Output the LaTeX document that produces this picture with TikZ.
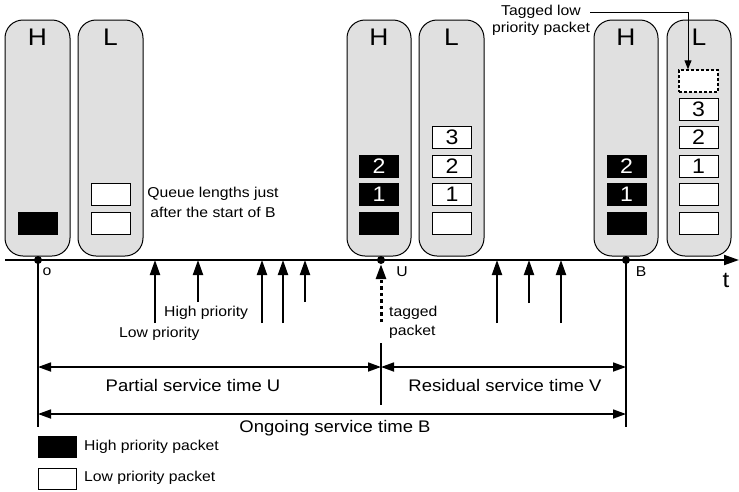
\documentclass[tikz,border=0pt]{standalone}
\usepackage{fontspec}
\setmainfont{Liberation Sans}[FakeStretch=1.1]
\usetikzlibrary{arrows.meta}
\definecolor{qgray}{RGB}{224,224,224}
\begin{document}
\begin{tikzpicture}[x=1pt,y=-1pt,
  queue/.style={draw, fill=qgray, rounded corners=18pt, line width=1pt, minimum width=64pt, minimum height=236pt, inner sep=0pt},
  qlabel/.style={font=\fontsize{24}{28}\selectfont, inner sep=0pt},
  pkt/.style={draw, line width=1pt, minimum width=39pt, minimum height=22pt, inner sep=0pt, font=\fontsize{21}{24}\selectfont},
  hpkt/.style={pkt, fill=black, text=white},
  lpkt/.style={pkt, fill=white},
  small/.style={font=\fontsize{14.3}{20}\selectfont, inner sep=0pt},
  big/.style={font=\fontsize{16.8}{20}\selectfont, inner sep=0pt},
  arr/.style={line width=2pt, -{Triangle[length=15pt,width=10pt]}},
  dim/.style={line width=1.7pt, {Triangle[length=13pt,width=9pt]}-{Triangle[length=13pt,width=9pt]}},
  dot/.style={circle, fill=black, inner sep=0pt, minimum size=8pt},
  vline/.style={line width=1.4pt},
]
\useasboundingbox (0,0) rectangle (739,491);

% queues
\node[queue, minimum width=65pt] (H1) at (37.5,138) {};
\node[queue, minimum width=65pt] (L1) at (110.5,138) {};
\node[queue] (H2) at (379,138) {};
\node[queue, minimum width=65pt] (L2) at (451.5,138) {};
\node[queue] (H3) at (626,138) {};
\node[queue] (L3) at (699,138) {};
\node[qlabel] (H1l) at (37.5,37.5) {H};
\node[qlabel] (L1l) at (110.5,37.5) {L};
\node[qlabel] (H2l) at (379,37.5) {H};
\node[qlabel] (L2l) at (451.5,37.5) {L};
\node[qlabel] (H3l) at (626,37.5) {H};
\node[qlabel] (L3l) at (699,37.5) {L};

% packets
\node[hpkt] (h1a) at (37.5,223) {};
\node[lpkt] (l1a) at (110.5,223) {};
\node[lpkt] (l1b) at (110.5,194.5) {};

\node[hpkt] (h2a) at (379,223) {};
\node[hpkt] (h2b) at (379,194.5) {1};
\node[hpkt] (h2c) at (379,166) {2};
\node[lpkt] (l2a) at (452,223) {};
\node[lpkt] (l2b) at (452,194.5) {1};
\node[lpkt] (l2c) at (452,166) {2};
\node[lpkt] (l2d) at (452,137.5) {3};

\node[hpkt] (h3a) at (626.5,223) {};
\node[hpkt] (h3b) at (626.5,194.5) {1};
\node[hpkt] (h3c) at (626.5,166) {2};
\node[lpkt] (l3a) at (698.5,223) {};
\node[lpkt] (l3b) at (698.5,194.5) {};
\node[lpkt] (l3c) at (698.5,166) {1};
\node[lpkt] (l3d) at (698.5,137.5) {2};
\node[lpkt] (l3e) at (698.5,109) {3};
\node[pkt, fill=white, line width=1.4pt, dash pattern=on 3pt off 2pt] (dash) at (698.5,81) {};

% tagged low priority label
\node[small, align=center, font=\fontsize{14.3}{17}\selectfont] (tag) at (541,20.5) {Tagged low\\priority packet};
\coordinate (tagc) at (590,12);
\draw[line width=1pt, -{Triangle[length=9pt,width=7pt]}] (tagc) -| ([xshift=-10.5pt]dash.north);

% axis
\coordinate (ax0) at (5,260);
\coordinate (ax1) at (739,260);
\draw[line width=2pt, -{Triangle[length=15pt,width=10pt]}] (ax0) -- (ax1);
\node[dot] (o) at (38,260) {};
\node[dot] (u) at (381,260) {};
\node[dot] (b) at (626,260) {};
\node[small] (ol) at (47,272) {o};
\node[small] (ul) at (402,272) {U};
\node[small] (bl) at (641,272) {B};
\node[font=\fontsize{22}{24}\selectfont, inner sep=0pt] (tl) at (726,280) {t};

% arrivals
\foreach \i/\x/\y in {1/155/323, 2/198/302, 3/262/323, 4/283/323, 5/305/302, 6/497/323, 7/529/303, 8/561/323} {
  \coordinate (a\i) at (\x,\y);
  \draw[arr] (a\i) -- (a\i |- o.center);
}
\coordinate (tg) at (381,322);
\draw[line width=3pt, dash pattern=on 3.5pt off 3pt, -{Triangle[length=15pt,width=10pt]}] (tg) -- (u.south);

\node[small, anchor=west] (hp) at (164,313) {High priority};
\node[small, anchor=west] (lp) at (119,334) {Low priority};
\node[small, anchor=west, align=left, font=\fontsize{14.3}{19}\selectfont] (tp) at (389,322.5) {tagged\\packet};
\node[small, align=center] (ql) at (213,202) {Queue lengths just\\after the start of B};

% time lines
\coordinate (oe) at (38,427);
\coordinate (be) at (626,427);
\coordinate (m1) at (381,343);
\coordinate (m2) at (381,405);
\draw[vline] (o.center) -- (oe);
\draw[vline] (b.center) -- (be);
\draw[vline] (m1) -- (m2);

\coordinate (d1l) at (38,367);
\coordinate (d1m) at (381,367);
\coordinate (d1r) at (626,367);
\coordinate (d2l) at (38,414);
\coordinate (d2r) at (626,414);
\draw[dim] (d1l) -- (d1m);
\draw[dim] (d1m) -- (d1r);
\draw[dim] (d2l) -- (d2r);
\node[big] (pu) at (193,385) {Partial service time U};
\node[big] (rv) at (505,385) {Residual service time V};
\node[big] (ob) at (335,428) {Ongoing service time B};

% legend
\node[draw, fill=black, minimum width=38pt, minimum height=21pt, inner sep=0pt] (legh) at (57,446.5) {};
\node[small, anchor=west] (leght) at (84,447) {High priority packet};
\node[draw, fill=white, line width=1pt, minimum width=38pt, minimum height=21pt, inner sep=0pt] (legl) at (57,478.5) {};
\node[small, anchor=west] (leglt) at (84,478) {Low priority packet};
\end{tikzpicture}
\end{document}
